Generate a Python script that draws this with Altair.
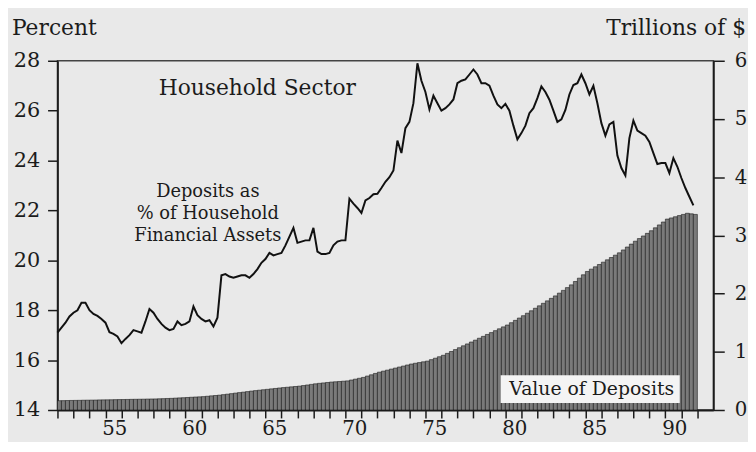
import altair as alt
import pandas as pd

# Quarterly observations, 1952Q1 .. 1991Q4
first_year = 1952
last_year = 1991

# Deposits as % of household financial assets (left axis, percent)
share = [
    17.10, 17.30, 17.50, 17.75,   # 1952
    17.90, 18.00, 18.30, 18.30,   # 1953
    18.00, 17.85, 17.77, 17.65,   # 1954
    17.50, 17.12, 17.05, 16.95,   # 1955
    16.68, 16.85, 17.00, 17.20,   # 1956
    17.15, 17.10, 17.55, 18.05,   # 1957
    17.90, 17.65, 17.45, 17.30,   # 1958
    17.20, 17.25, 17.55, 17.40,   # 1959
    17.45, 17.55, 18.15, 17.80,   # 1960
    17.65, 17.55, 17.60, 17.35,   # 1961
    17.70, 19.40, 19.45, 19.35,   # 1962
    19.30, 19.35, 19.40, 19.40,   # 1963
    19.30, 19.45, 19.65, 19.90,   # 1964
    20.05, 20.30, 20.20, 20.25,   # 1965
    20.30, 20.60, 20.95, 21.30,   # 1966
    20.70, 20.75, 20.80, 20.80,   # 1967
    21.30, 20.35, 20.25, 20.25,   # 1968
    20.30, 20.60, 20.75, 20.80,   # 1969
    20.80, 22.47, 22.27, 22.10,   # 1970
    21.90, 22.40, 22.50, 22.65,   # 1971
    22.67, 22.90, 23.15, 23.33,   # 1972
    23.60, 24.80, 24.30, 25.30,   # 1973
    25.55, 26.30, 27.90, 27.20,   # 1974
    26.75, 26.05, 26.60, 26.30,   # 1975
    26.00, 26.10, 26.25, 26.45,   # 1976
    27.10, 27.20, 27.25, 27.45,   # 1977
    27.65, 27.45, 27.10, 27.10,   # 1978
    27.00, 26.60, 26.25, 26.10,   # 1979
    26.27, 26.00, 25.40, 24.85,   # 1980
    25.10, 25.40, 25.90, 26.10,   # 1981
    26.50, 26.97, 26.75, 26.44,   # 1982
    26.00, 25.55, 25.65, 26.03,   # 1983
    26.65, 27.03, 27.10, 27.45,   # 1984
    27.10, 26.65, 27.00, 26.30,   # 1985
    25.50, 25.00, 25.45, 25.55,   # 1986
    24.20, 23.70, 23.40, 24.90,   # 1987
    25.60, 25.20, 25.10, 25.00,   # 1988
    24.75, 24.30, 23.86, 23.90,   # 1989
    23.90, 23.50, 24.10, 23.75,   # 1990
    23.30, 22.90, 22.55, 22.20,   # 1991
]

# Value of deposits (right axis, trillions of dollars)
value = [
    0.160, 0.161, 0.163, 0.164,   # 1952
    0.165, 0.166, 0.168, 0.169,   # 1953
    0.170, 0.171, 0.173, 0.174,   # 1954
    0.175, 0.176, 0.178, 0.179,   # 1955
    0.180, 0.181, 0.183, 0.184,   # 1956
    0.185, 0.186, 0.188, 0.189,   # 1957
    0.190, 0.193, 0.195, 0.198,   # 1958
    0.200, 0.204, 0.208, 0.211,   # 1959
    0.215, 0.219, 0.223, 0.226,   # 1960
    0.230, 0.236, 0.243, 0.249,   # 1961
    0.255, 0.264, 0.272, 0.281,   # 1962
    0.290, 0.299, 0.307, 0.316,   # 1963
    0.325, 0.333, 0.340, 0.348,   # 1964
    0.355, 0.363, 0.370, 0.378,   # 1965
    0.385, 0.391, 0.398, 0.404,   # 1966
    0.410, 0.420, 0.430, 0.440,   # 1967
    0.450, 0.458, 0.465, 0.473,   # 1968
    0.480, 0.485, 0.490, 0.495,   # 1969
    0.500, 0.515, 0.530, 0.545,   # 1970
    0.560, 0.583, 0.605, 0.628,   # 1971
    0.650, 0.668, 0.685, 0.703,   # 1972
    0.720, 0.738, 0.755, 0.773,   # 1973
    0.790, 0.803, 0.815, 0.828,   # 1974
    0.840, 0.865, 0.890, 0.915,   # 1975
    0.940, 0.973, 1.005, 1.038,   # 1976
    1.070, 1.103, 1.135, 1.168,   # 1977
    1.200, 1.233, 1.265, 1.298,   # 1978
    1.330, 1.363, 1.395, 1.428,   # 1979
    1.460, 1.500, 1.540, 1.580,   # 1980
    1.620, 1.663, 1.705, 1.748,   # 1981
    1.790, 1.833, 1.875, 1.918,   # 1982
    1.960, 2.008, 2.055, 2.103,   # 1983
    2.150, 2.208, 2.265, 2.323,   # 1984
    2.380, 2.420, 2.460, 2.500,   # 1985
    2.540, 2.580, 2.620, 2.660,   # 1986
    2.700, 2.750, 2.800, 2.850,   # 1987
    2.900, 2.945, 2.990, 3.035,   # 1988
    3.080, 3.130, 3.180, 3.230,   # 1989
    3.280, 3.300, 3.320, 3.340,   # 1990
    3.360, 3.380, 3.370, 3.360,   # 1991
]

x_ticks = list(range(1952, 1993))
left_ticks = [14, 16, 18, 20, 22, 24, 26, 28]
right_ticks = [0, 1, 2, 3, 4, 5, 6]

t = [y + q / 4 for y in range(first_year, last_year + 1) for q in range(4)]
df = pd.DataFrame({"t": t, "share": share, "value": value})

FONT = "DejaVu Serif"
INK = "#1b1b1b"
BG = "#e9e9e9"


def x_enc():
    return alt.X(
        "t:Q",
        scale=alt.Scale(domain=[1952, 1993], nice=False, zero=False),
        axis=alt.Axis(
            values=x_ticks,
            labelExpr="datum.value % 5 == 0 ? substring(toString(datum.value), 2, 4) : ''",
            labelOffset=9,
            labelOverlap=False,
            labelFlush=False,
            tickSize=8,
            labelPadding=1,
            labelFontSize=20,
            title=None,
            grid=False,
        ),
    )


bars = (
    alt.Chart(df)
    .transform_calculate(t2="datum.t + 0.25")
    .mark_bar(fill="#7a7a7a", stroke="#1a1a1a", strokeWidth=0.6)
    .encode(
        x=x_enc(),
        x2="t2:Q",
        y=alt.Y(
            "value:Q",
            scale=alt.Scale(domain=[0, 6], nice=False),
            axis=alt.Axis(
                orient="right",
                values=right_ticks,
                tickSize=11,
                labelPadding=10,
                labelFontSize=20,
                title=None,
                grid=False,
            ),
        ),
        y2=alt.datum(0),
    )
)

line = (
    alt.Chart(df)
    .mark_line(color="#111111", strokeWidth=2)
    .encode(
        x=x_enc(),
        y=alt.Y(
            "share:Q",
            scale=alt.Scale(domain=[14, 28], nice=False, zero=False),
            axis=alt.Axis(
                orient="left",
                values=left_ticks,
                tickSize=10,
                labelPadding=8,
                title=None,
                grid=False,
            ),
        ),
    )
)

one = pd.DataFrame({"k": [0]})

box = alt.Chart(one).mark_rect(fill="#f4f4f4").encode(
    x=alt.value(448), x2=alt.value(629), y=alt.value(318), y2=alt.value(346)
)
box_text = alt.Chart(one).mark_text(
    font=FONT, fontSize=19, color=INK, align="center", baseline="middle"
).encode(x=alt.value(540), y=alt.value(332), text=alt.value("Value of Deposits"))

title_text = alt.Chart(one).mark_text(
    font=FONT, fontSize=22, color=INK, align="center", baseline="middle"
).encode(x=alt.value(202), y=alt.value(28), text=alt.value("Household Sector"))

share_text = alt.Chart(one).mark_text(
    font=FONT, fontSize=18, color=INK, align="center", baseline="middle",
    lineBreak="\n", lineHeight=22,
).encode(
    x=alt.value(152), y=alt.value(133),
    text=alt.value("Deposits as\n% of Household\nFinancial Assets"),
)

left_title = alt.Chart(one).mark_text(
    font=FONT, fontSize=22, color=INK, align="left", baseline="alphabetic"
).encode(x=alt.value(-46), y=alt.value(-26), text=alt.value("Percent"))

right_title = alt.Chart(one).mark_text(
    font=FONT, fontSize=22, color=INK, align="right", baseline="alphabetic"
).encode(x=alt.value(696), y=alt.value(-26), text=alt.value("Trillions of $"))

chart = (
    alt.layer(bars, box, box_text, line, title_text, share_text, left_title, right_title)
    .resolve_scale(y="independent")
    .properties(
        width=663,
        height=353,
        background=BG,
        padding={"left": 50, "top": 51, "right": 35, "bottom": 30},
        autosize=alt.AutoSizeParams(type="none"),
    )
    .configure_view(stroke="#444444", strokeWidth=1.5)
    .configure_axis(
        labelFont=FONT,
        labelFontSize=21,
        labelColor=INK,
        tickColor=INK,
        tickWidth=1.5,
        domainColor=INK,
        domainWidth=1.8,
    )
)

chart.save("out.html", embed_options={"renderer": "svg", "actions": False})
